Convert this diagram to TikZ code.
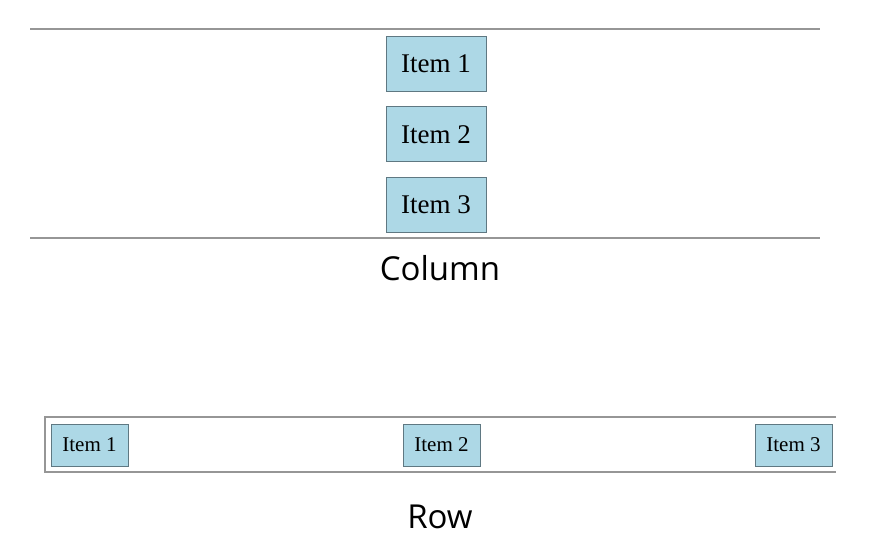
\documentclass[tikz,border=0pt]{standalone}
\usepackage{fontspec}
\setmainfont{Liberation Serif}
\newfontfamily\labelfont{Open Sans}
\usetikzlibrary{positioning}
\definecolor{itemblue}{RGB}{173,216,230}
\definecolor{itemedge}{RGB}{95,120,130}
\definecolor{rulegray}{RGB}{150,150,150}
\tikzset{
  colitem/.style={rectangle, draw=itemedge, fill=itemblue, thick, minimum width=100pt, minimum height=55pt, font=\fontsize{27}{30}\selectfont},
  rowitem/.style={rectangle, draw=itemedge, fill=itemblue, thick, minimum width=77pt, minimum height=42pt, font=\fontsize{21}{24}\selectfont},
  caption/.style={font=\labelfont\fontsize{33}{36}\selectfont},
  rulerline/.style={rulegray, line width=1.5pt}
}
\begin{document}
\begin{tikzpicture}[x=1pt,y=-1pt]
\useasboundingbox (0,0) rectangle (879,547);
% Column
\draw[rulerline] (30,29) -- (820,29);
\draw[rulerline] (30,238) -- (820,238);
\node[colitem] (c1) at (436,63.5) {Item 1};
\node[colitem, below=15pt of c1] (c2) {Item 2};
\node[colitem, below=15pt of c2] (c3) {Item 3};
\node[caption] (col) at (440,268) {Column};

% Row
\draw[rulerline] (836,417) -- (45,417) -- (45,472) -- (836,472);
\node[rowitem] (r1) at (89.5,445) {Item 1};
\node[rowitem] (r2) at (441.5,445) {Item 2};
\node[rowitem] (r3) at (793.5,445) {Item 3};
\node[caption] (row) at (440,517) {Row};
\end{tikzpicture}
\end{document}
